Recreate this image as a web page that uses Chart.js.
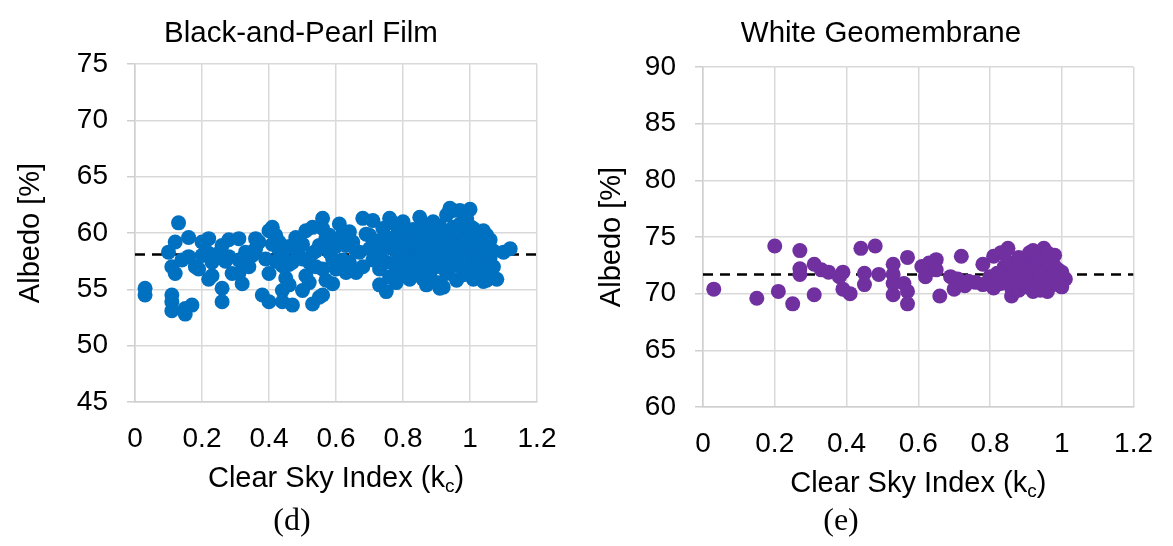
<!DOCTYPE html>
<html>
<head>
<meta charset="utf-8">
<script src="https://cdn.jsdelivr.net/npm/chart.js@4.4.1/dist/chart.umd.min.js"></script>
<style>
  body { margin: 0; background: #fff; width: 1173px; height: 546px; overflow: hidden; position: relative; }
  .panel { position: absolute; top: 0; }
  #panel-film { left: 0; }
  #panel-geo { left: 589px; }
</style>
</head>
<body>
<div class="panel" id="panel-film"><canvas id="chart-film" width="602" height="546"></canvas></div>
<div class="panel" id="panel-geo"><canvas id="chart-geo" width="584" height="546"></canvas></div>
<script>
// (d) Black-and-Pearl Film
const filmKc = [
  0.03, 0.03, 0.10, 0.11, 0.11, 0.11, 0.11, 0.12, 0.12, 0.13,
  0.15, 0.16, 0.16, 0.17, 0.15, 0.18, 0.20, 0.22, 0.22, 0.23,
  0.22, 0.23, 0.25, 0.26, 0.26, 0.28, 0.28, 0.29, 0.31, 0.31,
  0.32, 0.31, 0.33, 0.36, 0.36, 0.39, 0.40, 0.38, 0.40, 0.40,
  0.41, 0.42, 0.41, 0.43, 0.42, 0.44, 0.44, 0.46, 0.44, 0.47,
  0.50, 0.53, 0.56, 0.59, 0.55, 0.48, 0.51, 0.53, 0.56, 0.56,
  0.48, 0.47, 0.52, 0.51, 0.56, 0.55, 0.59, 0.59, 0.61, 0.64,
  0.63, 0.63, 0.66, 0.68, 0.71, 0.76, 0.67, 0.70, 0.73, 0.75,
  0.75, 0.78, 0.80, 0.82, 0.49, 0.50, 0.53, 0.54, 0.57, 0.58,
  0.60, 0.62, 0.64, 0.65, 0.66, 0.68, 0.69, 0.45, 0.46, 0.52,
  0.57, 0.60, 0.44, 0.37, 0.34, 0.26, 0.27, 0.20, 0.19, 0.14,
  0.72, 0.72, 0.73, 0.74, 0.76, 0.77, 0.78, 0.78, 0.79, 0.80,
  0.80, 0.81, 0.82, 0.83, 0.83, 0.84, 0.85, 0.85, 0.86, 0.86,
  0.87, 0.87, 0.88, 0.88, 0.89, 0.89, 0.90, 0.90, 0.90, 0.91,
  0.91, 0.92, 0.92, 0.93, 0.93, 0.93, 0.94, 0.94, 0.95, 0.95,
  0.95, 0.96, 0.96, 0.97, 0.97, 0.98, 0.98, 0.99, 0.99, 1.00,
  1.00, 1.00, 1.01, 1.01, 1.02, 1.02, 1.03, 1.03, 1.04, 1.04,
  1.05, 1.05, 1.06, 1.06, 1.07, 1.07, 1.08, 1.10, 1.12, 0.94,
  0.97, 0.71, 0.74, 0.76, 0.77, 0.79, 0.81, 0.82, 0.84, 0.86,
  0.87, 0.84, 0.91, 1.05, 0.77, 0.79, 0.81, 0.83, 0.85, 0.86,
  0.88, 0.89, 0.91, 0.92, 0.93, 0.94, 0.96, 0.97, 0.98, 0.99,
  1.01, 1.02, 1.03, 1.04, 1.06, 0.78, 0.80, 0.82, 0.84, 0.87,
  0.88, 0.90, 0.92, 0.95, 0.96, 0.98, 1.00, 1.02, 1.04, 1.05,
  0.70, 0.73, 0.75, 0.62, 0.58, 0.54, 0.50, 0.43, 0.46, 0.35
];
const filmAlbedo = [
  55.1, 54.5, 58.3, 54.5, 53.9, 53.1, 57.0, 56.4, 59.2, 60.9,
  52.8, 59.6, 57.9, 53.6, 53.3, 57.0, 58.0, 59.5, 58.2, 57.4,
  55.9, 56.2, 58.2, 55.1, 53.9, 59.4, 57.9, 56.4, 59.5, 56.4,
  55.5, 57.6, 58.3, 59.5, 58.6, 57.7, 56.4, 54.5, 53.9, 60.2,
  60.5, 59.8, 59.0, 58.5, 57.5, 57.1, 54.9, 55.4, 53.9, 53.6,
  54.9, 53.7, 54.5, 55.5, 54.3, 59.6, 60.2, 60.5, 61.3, 60.4,
  58.5, 57.4, 57.4, 56.2, 56.8, 58.9, 59.4, 57.7, 60.8, 60.1,
  58.9, 56.5, 56.5, 61.3, 61.1, 61.3, 58.3, 59.8, 55.4, 54.8,
  57.4, 56.2, 60.7, 55.9, 58.0, 59.0, 58.2, 57.0, 59.5, 58.3,
  58.8, 57.6, 57.4, 59.2, 58.4, 57.0, 59.9, 56.0, 58.8, 55.6,
  55.8, 56.8, 58.0, 59.2, 57.0, 58.9, 57.5, 59.2, 56.8, 57.6,
  58.0, 59.3, 56.8, 60.4, 58.7, 57.3, 59.8, 55.6, 58.1, 61.0,
  57.0, 59.4, 58.4, 60.3, 56.6, 57.8, 59.0, 61.4, 55.9, 58.4,
  60.0, 57.2, 59.3, 56.4, 61.0, 58.1, 59.8, 57.0, 55.6, 60.6,
  58.6, 57.6, 55.2, 59.4, 61.6, 56.4, 58.2, 60.2, 57.1, 62.0,
  59.0, 55.8, 58.6, 60.8, 57.4, 59.6, 56.3, 58.0, 61.3, 62.1,
  57.2, 59.1, 55.9, 60.4, 58.3, 56.7, 59.6, 57.6, 60.2, 55.7,
  58.7, 56.8, 59.4, 57.8, 57.0, 58.4, 55.9, 58.3, 58.6, 62.2,
  62.0, 57.6, 59.0, 56.1, 60.9, 57.6, 56.3, 60.2, 59.9, 60.8,
  55.4, 56.5, 55.1, 55.8, 58.9, 60.3, 57.9, 59.1, 57.4, 59.6,
  58.0, 60.4, 59.1, 58.9, 57.9, 59.7, 57.4, 58.9, 60.6, 57.2,
  58.8, 59.8, 58.5, 57.3, 58.6, 58.4, 59.0, 57.5, 59.2, 58.6,
  57.8, 58.9, 59.9, 60.5, 57.7, 57.8, 60.6, 57.0, 58.8, 59.8,
  58.6, 58.0, 59.6, 59.9, 59.8, 58.4, 57.7, 59.2, 57.2, 58.0
];
const filmMean = 58.1;
const filmTicks = [45, 50, 55, 60, 65, 70, 75];

// (e) White Geomembrane
const geoKc = [
  0.03, 0.15, 0.20, 0.21, 0.25, 0.27, 0.27, 0.27, 0.31, 0.31,
  0.33, 0.35, 0.38, 0.39, 0.39, 0.41, 0.44, 0.45, 0.45, 0.48,
  0.49, 0.53, 0.53, 0.53, 0.53, 0.56, 0.57, 0.57, 0.57, 0.62,
  0.63, 0.65, 0.65, 0.66, 0.69, 0.70, 0.72, 0.74, 0.78, 0.78,
  0.81, 0.80, 0.83, 0.84, 0.85, 0.86, 0.92, 0.96, 0.95, 0.91,
  0.98, 1.01, 0.99, 1.00, 0.97, 0.71, 0.73, 0.76, 0.79, 0.81,
  0.82, 0.83, 0.84, 0.85, 0.86, 0.86, 0.87, 0.87, 0.88, 0.88,
  0.89, 0.89, 0.90, 0.90, 0.90, 0.91, 0.91, 0.92, 0.92, 0.93,
  0.93, 0.93, 0.94, 0.94, 0.95, 0.95, 0.95, 0.96, 0.96, 0.96,
  0.97, 0.98, 0.98, 0.99, 1.00, 0.94, 0.88, 0.92, 0.61, 0.90,
  0.92, 0.94, 0.97, 0.89, 0.87
];
const geoAlbedo = [
  70.4, 69.6, 74.2, 70.2, 69.1, 73.8, 72.2, 71.7, 69.9, 72.6,
  72.1, 71.9, 71.5, 70.4, 71.9, 70.0, 74.0, 71.8, 70.8, 74.2,
  71.7, 72.6, 71.7, 70.9, 69.9, 70.9, 73.2, 70.2, 69.1, 71.5,
  72.7, 73.0, 72.1, 69.8, 71.5, 70.4, 73.3, 71.1, 72.6, 70.8,
  73.3, 71.5, 73.6, 72.4, 74.0, 69.8, 70.2, 70.2, 74.0, 73.6,
  73.4, 71.3, 72.1, 70.6, 73.0, 71.3, 70.7, 71.0, 70.9, 70.5,
  71.8, 70.9, 71.3, 72.8, 71.6, 70.5, 72.2, 71.0, 72.9, 70.3,
  71.7, 72.5, 71.2, 73.1, 70.6, 72.0, 70.9, 72.7, 71.4, 73.3,
  71.9, 70.6, 72.4, 71.1, 72.8, 71.6, 70.5, 72.1, 73.6, 71.0,
  71.8, 72.4, 71.2, 70.8, 71.9, 70.3, 73.2, 73.8, 72.4, 72.3,
  72.1, 71.7, 72.6, 71.0, 71.9
];
const geoMean = 71.7;
const geoTicks = [60, 65, 70, 75, 80, 85, 90];

const kcTicks = [0, 0.2, 0.4, 0.6, 0.8, 1, 1.2];
const kcLabels = ["0", "0.2", "0.4", "0.6", "0.8", "1", "1.2"];

const FONT = '"Liberation Sans", Arial, sans-serif';
Chart.defaults.font.family = FONT;
Chart.defaults.color = "#000";

// titre, titre de l'axe x (avec indice) et légende (d)/(e)
const panelText = {
    id: "panelText",
    afterDraw(chart, args, opts) {
        const ctx = chart.ctx;
        const area = chart.chartArea;
        const cx = (area.left + area.right) / 2;
        ctx.save();
        ctx.fillStyle = "#000";

        ctx.font = "29.5px " + FONT;
        ctx.textAlign = "center";
        ctx.textBaseline = "alphabetic";
        ctx.fillText(opts.title, opts.titleX, 42);

        const main = "Clear Sky Index (k";
        ctx.font = "29px " + FONT;
        const w1 = ctx.measureText(main).width;
        const w3 = ctx.measureText(")").width;
        ctx.font = "19px " + FONT;
        const w2 = ctx.measureText("c").width;
        let x = cx - (w1 + w2 + w3) / 2;
        const base = area.bottom + 85;
        ctx.textAlign = "left";
        ctx.font = "29px " + FONT;
        ctx.fillText(main, x, base);
        x += w1;
        ctx.font = "19px " + FONT;
        ctx.fillText("c", x, base + 5);
        x += w2;
        ctx.font = "29px " + FONT;
        ctx.fillText(")", x, base);

        ctx.font = '32px "Liberation Serif", "Times New Roman", serif';
        ctx.textAlign = "center";
        ctx.fillText(opts.caption, opts.captionX, 530);
        ctx.restore();
    }
};

function makeChart(id, o) {
    const points = o.kc.map((k, i) => ({ x: k, y: o.albedo[i] }));
    const meanLine = [
        { x: kcTicks[0], y: o.mean },
        { x: kcTicks[kcTicks.length - 1], y: o.mean }
    ];
    const config = {
        type: "scatter",
        data: {
            datasets: [{
                data: points,
                backgroundColor: o.color,
                borderWidth: 0,
                pointRadius: 7.5,
                pointHoverRadius: 7.5,
                order: 1
            }, {
                type: "line",
                data: meanLine,
                borderColor: "#000",
                borderWidth: 2.5,
                borderDash: [10, 7],
                pointRadius: 0,
                fill: false,
                order: 2
            }]
        },
        options: {
            responsive: false,
            animation: false,
            events: [],
            layout: {
                padding: { left: 0, right: o.padRight, top: o.top, bottom: 546 - o.bottom - 60 }
            },
            plugins: {
                legend: { display: false },
                tooltip: { enabled: false },
                panelText: { title: o.title, titleX: o.titleX, caption: o.caption, captionX: o.captionX }
            },
            scales: {
                x: {
                    type: "linear",
                    min: kcTicks[0],
                    max: kcTicks[kcTicks.length - 1],
                    afterBuildTicks: s => { s.ticks = kcTicks.map(v => ({ value: v })); },
                    afterFit: s => { s.height = 60; },
                    ticks: {
                        padding: 20,
                        font: { size: 28 },
                        maxRotation: 0,
                        callback: (v, i) => kcLabels[i]
                    },
                    grid: { color: "#d9d9d9", lineWidth: 1.5, drawTicks: false },
                    border: { color: "#cfcfcf", width: 1.5 }
                },
                y: {
                    type: "linear",
                    min: o.yTicks[0],
                    max: o.yTicks[o.yTicks.length - 1],
                    afterBuildTicks: s => { s.ticks = o.yTicks.map(v => ({ value: v })); },
                    afterFit: s => { s.width = o.yWidth; },
                    ticks: { padding: 19, font: { size: 28 } },
                    grid: { color: "#d9d9d9", lineWidth: 1.5, tickLength: 8, tickColor: "#cfcfcf" },
                    border: { color: "#cfcfcf", width: 1.5 },
                    title: {
                        display: true,
                        text: "Albedo [%]",
                        font: { size: 29 },
                        padding: { top: o.yTitlePad, bottom: 0 }
                    }
                }
            }
        },
        plugins: [panelText]
    };
    new Chart(document.getElementById(id).getContext("2d"), config);
}

makeChart("chart-film", {
    kc: filmKc, albedo: filmAlbedo, mean: filmMean, yTicks: filmTicks,
    color: "#0070C0", title: "Black-and-Pearl Film", titleX: 301,
    caption: "(d)", captionX: 292,
    top: 64, bottom: 402, padRight: 65, yWidth: 135, yTitlePad: 14
});

makeChart("chart-geo", {
    kc: geoKc, albedo: geoAlbedo, mean: geoMean, yTicks: geoTicks,
    color: "#7030A0", title: "White Geomembrane", titleX: 292,
    caption: "(e)", captionX: 252,
    top: 67, bottom: 407, padRight: 35, yWidth: 114, yTitlePad: 6
});
</script>
</body>
</html>
